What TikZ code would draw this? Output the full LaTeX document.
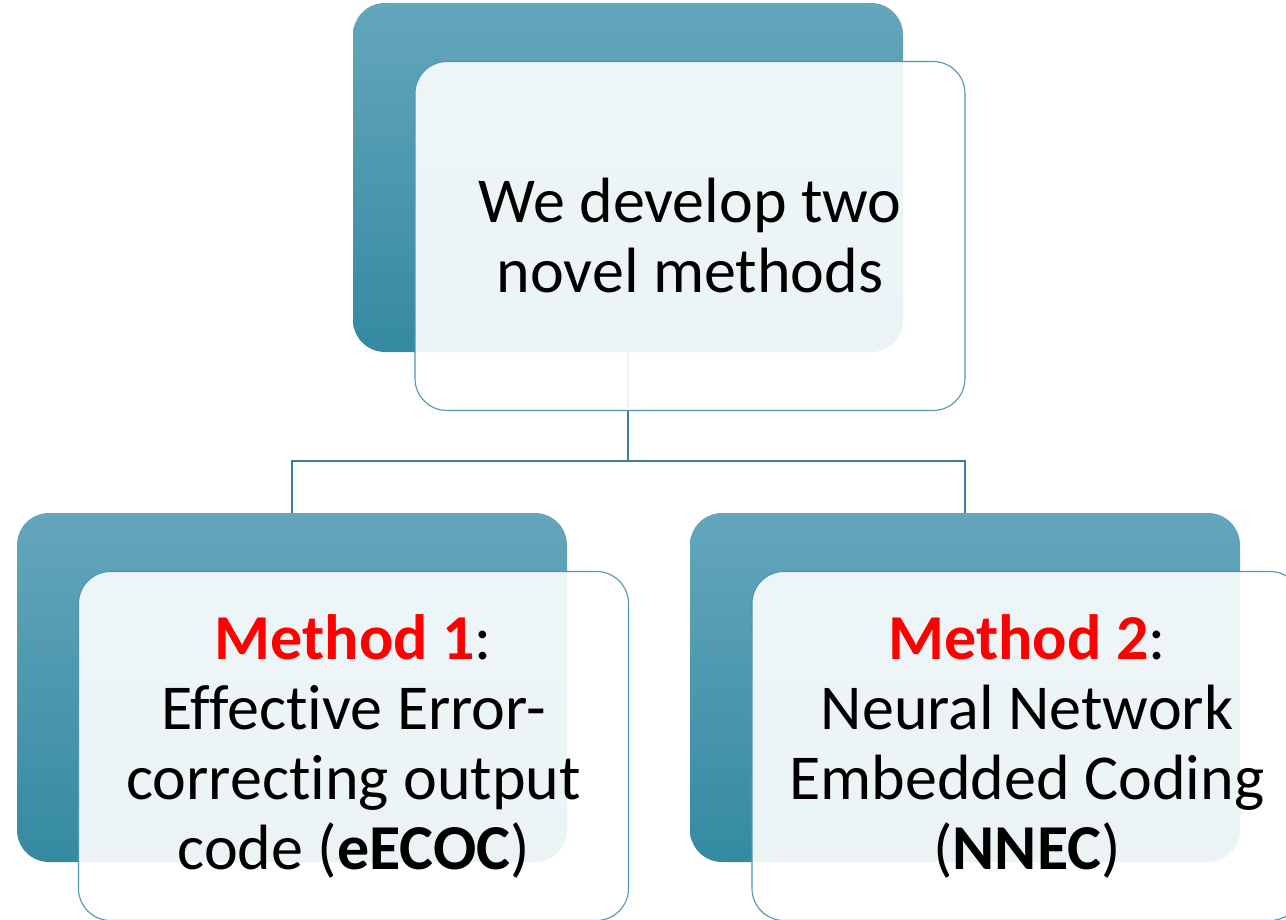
\documentclass[tikz,border=0pt]{standalone}
\usepackage{fontspec}
\setmainfont{Carlito}[Ligatures={NoCommon,NoContextual}]
\definecolor{darktop}{RGB}{100,166,188}
\definecolor{darkbot}{RGB}{52,138,161}
\definecolor{edgeteal}{RGB}{80,150,174}
\definecolor{linkteal}{RGB}{62,129,151}
\definecolor{methodred}{RGB}{255,0,0}
\begin{document}
\begin{tikzpicture}[x=1pt,y=-1pt,
  darkbox/.style={rectangle, rounded corners=32pt, minimum width=550pt, minimum height=349pt,
    inner sep=0pt, top color=darktop, bottom color=darkbot, draw=none},
  lightbox/.style={rectangle, rounded corners=32pt, minimum width=550pt, minimum height=349pt,
    inner sep=0pt, fill=white, fill opacity=0.9, text opacity=1, draw=edgeteal, line width=1.1pt,
    align=center, font=\fontsize{64}{70}\selectfont},
  link/.style={draw=linkteal, line width=1.2pt}]
\useasboundingbox (0,0) rectangle (1286,920);
% dark back boxes
\node[darkbox] (topdark) at (628,177.5) {};
\node[darkbox] (leftdark) at (292,687.5) {};
\node[darkbox] (rightdark) at (965,687.5) {};
% connectors
\coordinate (j) at (628,461);
\draw[link] (topdark.south) -- (j);
\draw[link] (j) -| (leftdark.north);
\draw[link] (j) -| (rightdark.north);
% light front boxes
\node[lightbox] (toplight) at (690,236) {We develop two\\novel methods};
\node[lightbox] (leftlight) at (353.5,746) {\textcolor{methodred}{\textbf{Method 1}}:\\Effective Error-\\correcting output\\code (\textbf{eECOC})};
\node[lightbox] (rightlight) at (1027,746) {\textcolor{methodred}{\textbf{Method 2}}:\\Neural Network\\Embedded Coding\\(\textbf{NNEC})};
\end{tikzpicture}
\end{document}
